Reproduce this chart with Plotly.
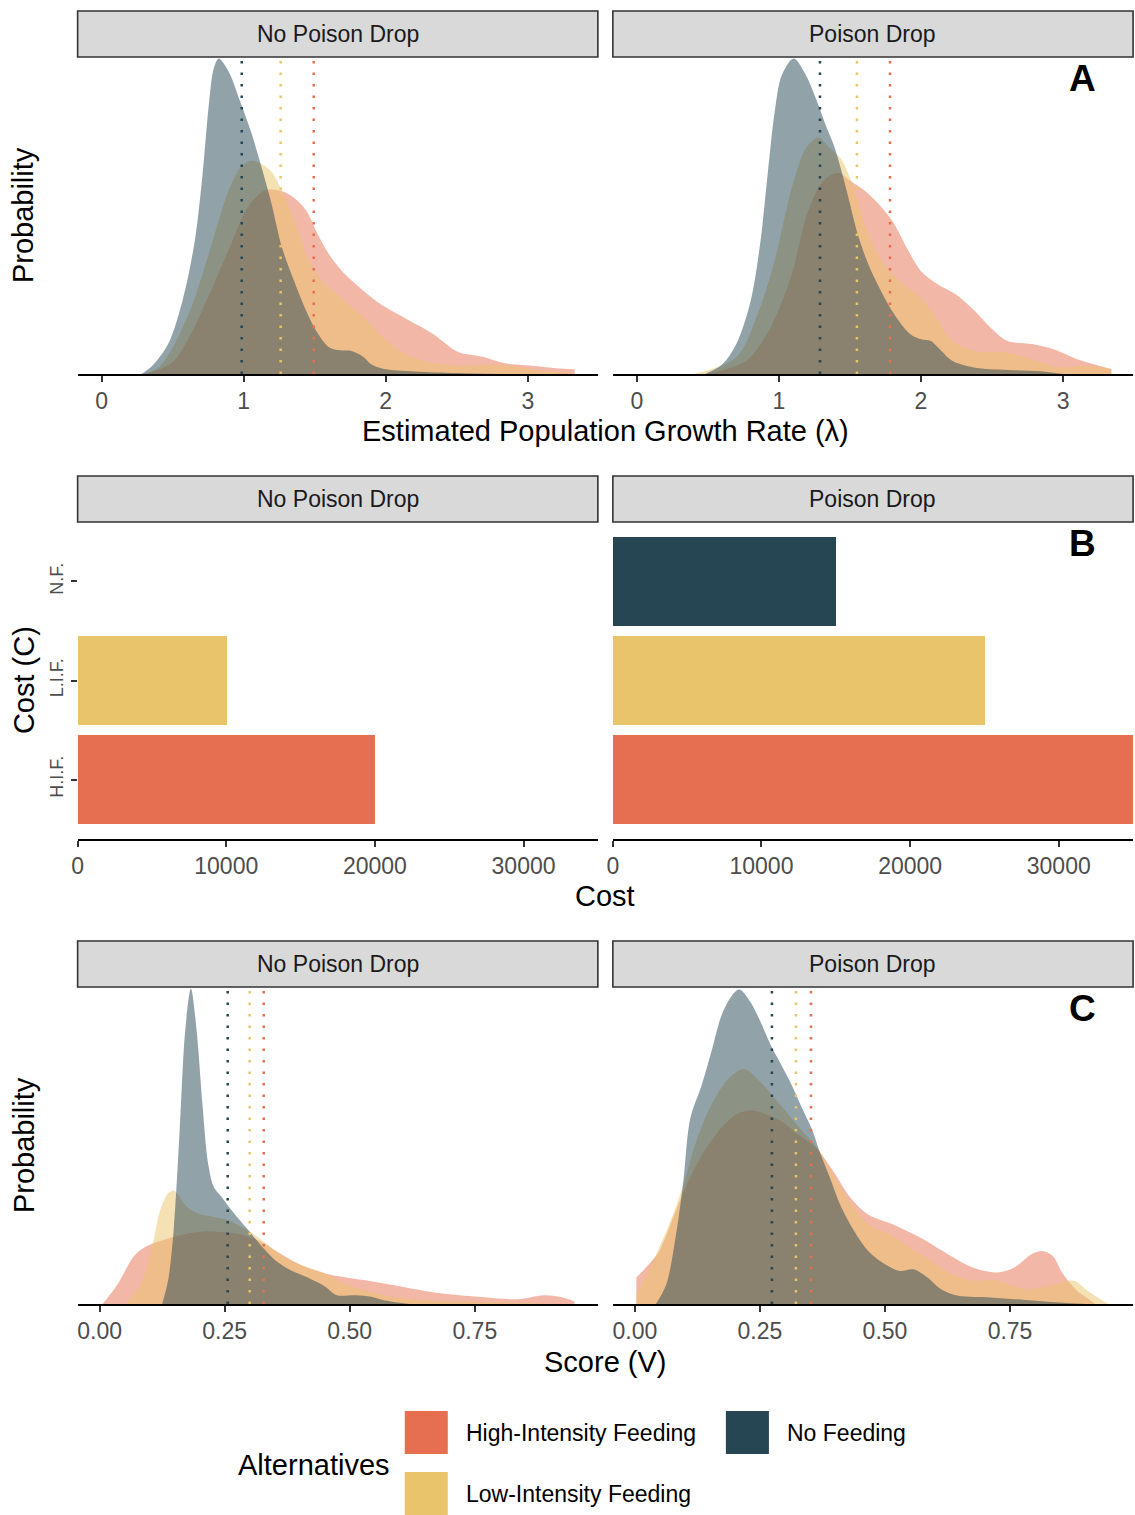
import plotly.graph_objects as go

# ---------------- data ----------------
alternatives = ["High-Intensity Feeding", "Low-Intensity Feeding", "No Feeding"]
alt_colors = ["#E76F51", "#E9C46A", "#264653"]
facets = ["No Poison Drop", "Poison Drop"]

# Panel A: estimated population growth rate (lambda) densities (relative height)
lam_npd_hif_x = [0.30, 0.49, 0.63, 0.76, 0.90, 1.03, 1.14, 1.19, 1.27, 1.35, 1.44, 1.52, 1.60, 1.71, 1.84, 1.976, 2.14, 2.33, 2.51, 2.68, 2.84, 3.05, 3.20, 3.33]
lam_npd_hif_y = [0.0, 0.034, 0.128, 0.255, 0.40, 0.53, 0.58, 0.586, 0.579, 0.56, 0.518, 0.444, 0.38, 0.318, 0.265, 0.218, 0.176, 0.128, 0.07, 0.055, 0.034, 0.025, 0.018, 0.015]
lam_npd_lif_x = [0.30, 0.40, 0.49, 0.63, 0.76, 0.90, 0.98, 1.046, 1.11, 1.19, 1.27, 1.35, 1.44, 1.545, 1.65, 1.76, 1.87, 1.976, 2.11, 2.245, 2.51, 2.73, 2.92, 3.10, 3.30]
lam_npd_lif_y = [0.0, 0.02, 0.076, 0.21, 0.39, 0.59, 0.655, 0.676, 0.67, 0.644, 0.58, 0.497, 0.38, 0.297, 0.255, 0.213, 0.17, 0.118, 0.07, 0.044, 0.025, 0.03, 0.023, 0.01, 0.003]
lam_npd_nf_x = [0.28, 0.36, 0.47, 0.57, 0.655, 0.71, 0.757, 0.79, 0.825, 0.898, 0.97, 1.05, 1.11, 1.19, 1.27, 1.35, 1.44, 1.52, 1.60, 1.68, 1.76, 1.84, 1.90, 1.98, 2.20, 2.50, 2.80]
lam_npd_nf_y = [0.0, 0.028, 0.097, 0.234, 0.42, 0.63, 0.865, 0.97, 1.0, 0.955, 0.87, 0.77, 0.68, 0.55, 0.40, 0.30, 0.20, 0.13, 0.085, 0.075, 0.073, 0.055, 0.03, 0.017, 0.008, 0.003, 0.0]

lam_pd_hif_x = [0.48, 0.77, 0.94, 1.09, 1.19, 1.29, 1.36, 1.42, 1.51, 1.607, 1.705, 1.80, 1.90, 2.00, 2.12, 2.244, 2.367, 2.49, 2.61, 2.78, 2.93, 3.10, 3.34]
lam_pd_hif_y = [0.0, 0.042, 0.147, 0.316, 0.495, 0.60, 0.63, 0.637, 0.61, 0.58, 0.537, 0.484, 0.40, 0.326, 0.284, 0.253, 0.205, 0.147, 0.105, 0.095, 0.079, 0.047, 0.016]
lam_pd_lif_x = [0.40, 0.70, 0.85, 0.97, 1.09, 1.19, 1.275, 1.36, 1.435, 1.51, 1.58, 1.655, 1.754, 1.876, 2.00, 2.12, 2.22, 2.37, 2.61, 2.735, 2.98, 3.15, 3.34]
lam_pd_lif_y = [0.0, 0.053, 0.19, 0.36, 0.59, 0.716, 0.75, 0.716, 0.684, 0.61, 0.505, 0.42, 0.337, 0.284, 0.242, 0.168, 0.105, 0.074, 0.068, 0.053, 0.021, 0.026, 0.016]
lam_pd_nf_x = [0.48, 0.60, 0.70, 0.80, 0.87, 0.92, 0.97, 1.02, 1.104, 1.19, 1.263, 1.337, 1.386, 1.435, 1.484, 1.557, 1.63, 1.73, 1.827, 1.925, 2.00, 2.07, 2.12, 2.22, 2.37, 2.61, 2.86, 3.00]
lam_pd_nf_y = [0.0, 0.03, 0.095, 0.23, 0.42, 0.63, 0.83, 0.947, 1.0, 0.947, 0.87, 0.78, 0.726, 0.653, 0.568, 0.44, 0.347, 0.253, 0.179, 0.126, 0.11, 0.105, 0.084, 0.042, 0.021, 0.013, 0.008, 0.0]

lam_means_npd = [1.493, 1.26, 0.986]
lam_means_pd = [1.782, 1.549, 1.289]

# Panel B: cost
cost_labels = ["H.I.F.", "L.I.F.", "N.F."]
cost_npd = [20000, 10000, 0]
cost_pd = [35000, 25000, 15000]

# Panel C: score (V) densities (relative height)
score_npd_hif_x = [0.006, 0.037, 0.0675, 0.09, 0.121, 0.16, 0.2055, 0.244, 0.282, 0.32, 0.351, 0.397, 0.451, 0.528, 0.604, 0.681, 0.758, 0.834, 0.888, 0.919, 0.949]
score_npd_hif_y = [0.0, 0.065, 0.15, 0.18, 0.20, 0.218, 0.23, 0.228, 0.221, 0.20, 0.17, 0.128, 0.097, 0.076, 0.055, 0.034, 0.023, 0.015, 0.028, 0.023, 0.009]
score_npd_lif_x = [0.052, 0.083, 0.106, 0.121, 0.1365, 0.148, 0.16, 0.175, 0.198, 0.2285, 0.259, 0.29, 0.32, 0.351, 0.382, 0.4125, 0.451, 0.489, 0.528, 0.566, 0.643, 0.796, 0.95]
score_npd_lif_y = [0.0, 0.065, 0.19, 0.297, 0.35, 0.36, 0.34, 0.307, 0.286, 0.276, 0.265, 0.239, 0.207, 0.17, 0.139, 0.118, 0.097, 0.065, 0.044, 0.028, 0.013, 0.006, 0.0]
score_npd_nf_x = [0.125, 0.137, 0.148, 0.16, 0.171, 0.1825, 0.194, 0.2055, 0.217, 0.2285, 0.244, 0.259, 0.2745, 0.2975, 0.32, 0.351, 0.382, 0.4125, 0.451, 0.474, 0.512, 0.543, 0.566, 0.604, 0.62]
score_npd_nf_y = [0.0, 0.076, 0.234, 0.55, 0.865, 1.0, 0.865, 0.634, 0.444, 0.37, 0.339, 0.307, 0.276, 0.234, 0.19, 0.139, 0.107, 0.086, 0.055, 0.028, 0.028, 0.023, 0.013, 0.003, 0.0]

score_pd_hif_x = [0.003, 0.028, 0.049, 0.0765, 0.104, 0.139, 0.174, 0.202, 0.23, 0.2575, 0.292, 0.327, 0.362, 0.397, 0.431, 0.466, 0.515, 0.571, 0.626, 0.675, 0.724, 0.7585, 0.793, 0.814, 0.835, 0.856, 0.884, 0.912, 0.92]
score_pd_hif_y = [0.084, 0.126, 0.168, 0.274, 0.38, 0.485, 0.56, 0.60, 0.614, 0.605, 0.58, 0.537, 0.495, 0.42, 0.337, 0.284, 0.253, 0.21, 0.158, 0.116, 0.10, 0.116, 0.158, 0.168, 0.153, 0.095, 0.042, 0.01, 0.0]
score_pd_lif_x = [0.003, 0.028, 0.049, 0.0765, 0.097, 0.125, 0.153, 0.188, 0.219, 0.2505, 0.285, 0.313, 0.341, 0.369, 0.397, 0.4245, 0.466, 0.508, 0.55, 0.5915, 0.633, 0.675, 0.724, 0.78, 0.828, 0.877, 0.905, 0.946]
score_pd_lif_y = [0.03, 0.105, 0.18, 0.284, 0.38, 0.526, 0.632, 0.716, 0.745, 0.705, 0.642, 0.59, 0.537, 0.485, 0.41, 0.337, 0.253, 0.221, 0.179, 0.137, 0.095, 0.074, 0.074, 0.047, 0.058, 0.074, 0.042, 0.0]
score_pd_nf_x = [0.042, 0.063, 0.0835, 0.097, 0.111, 0.132, 0.153, 0.174, 0.195, 0.209, 0.23, 0.2505, 0.271, 0.292, 0.313, 0.334, 0.355, 0.369, 0.39, 0.41, 0.438, 0.466, 0.50, 0.529, 0.557, 0.585, 0.612, 0.647, 0.71, 0.78, 0.849, 0.90]
score_pd_nf_y = [0.0, 0.063, 0.232, 0.39, 0.59, 0.686, 0.80, 0.918, 0.98, 0.997, 0.96, 0.897, 0.823, 0.76, 0.696, 0.622, 0.55, 0.485, 0.40, 0.316, 0.232, 0.169, 0.126, 0.105, 0.11, 0.084, 0.047, 0.026, 0.021, 0.013, 0.005, 0.0]

score_means_npd = [0.328, 0.30, 0.256]
score_means_pd = [0.352, 0.322, 0.274]

# ---------------- layout helpers ----------------
W, H = 1135, 1515
FONT = "Liberation Sans, Arial, Helvetica, sans-serif"


def fx(p):
    # horizontal pixel -> paper fraction (small correction for the capture's horizontal offset)
    return ((p - 6.4) / 0.9943) / W


def fy(p):
    return 1 - p / H


def rgba(hex_color, a):
    h = hex_color.lstrip("#")
    r, g, b = int(h[0:2], 16), int(h[2:4], 16), int(h[4:6], 16)
    return f"rgba({r},{g},{b},{a})"


cols = [(78, 598), (613, 1133)]
rows = [(57, 374), (522, 839), (987, 1304)]
strip_rows = [(11, 57), (476, 522), (941, 987)]

fig = go.Figure()

density_sets = {
    (0, 0): [(lam_npd_hif_x, lam_npd_hif_y), (lam_npd_lif_x, lam_npd_lif_y), (lam_npd_nf_x, lam_npd_nf_y)],
    (0, 1): [(lam_pd_hif_x, lam_pd_hif_y), (lam_pd_lif_x, lam_pd_lif_y), (lam_pd_nf_x, lam_pd_nf_y)],
    (2, 0): [(score_npd_hif_x, score_npd_hif_y), (score_npd_lif_x, score_npd_lif_y), (score_npd_nf_x, score_npd_nf_y)],
    (2, 1): [(score_pd_hif_x, score_pd_hif_y), (score_pd_lif_x, score_pd_lif_y), (score_pd_nf_x, score_pd_nf_y)],
}
mean_sets = {
    (0, 0): lam_means_npd, (0, 1): lam_means_pd,
    (2, 0): score_means_npd, (2, 1): score_means_pd,
}


def axis_index(r, c):
    return r * 2 + c + 1


shapes = []
annotations = []

for (r, c), series in density_sets.items():
    i = axis_index(r, c)
    xa = "x" if i == 1 else f"x{i}"
    ya = "y" if i == 1 else f"y{i}"
    for k, (xs, ys) in enumerate(series):
        fig.add_trace(go.Scatter(
            x=xs, y=ys, mode="lines", fill="tozeroy",
            line=dict(width=0, color=alt_colors[k], shape="spline", smoothing=0.9),
            fillcolor=rgba(alt_colors[k], 0.5),
            name=alternatives[k], showlegend=False, hoverinfo="skip",
            xaxis=xa, yaxis=ya))
    for k, m in enumerate(mean_sets[(r, c)]):
        shapes.append(dict(type="line", xref=xa, yref=f"{ya} domain", x0=m, x1=m, y0=0, y1=1,
                           line=dict(color=alt_colors[k], width=2.5, dash="2.5px,9px"), layer="above"))

for c, vals in enumerate([cost_npd, cost_pd]):
    i = axis_index(1, c)
    fig.add_trace(go.Bar(
        x=vals, y=cost_labels, orientation="h", width=0.9,
        marker=dict(color=alt_colors, line=dict(width=0)),
        showlegend=False, hoverinfo="skip",
        xaxis=f"x{i}", yaxis=f"y{i}"))

layout_axes = {}
for r in range(3):
    for c in range(2):
        i = axis_index(r, c)
        xname = "xaxis" if i == 1 else f"xaxis{i}"
        yname = "yaxis" if i == 1 else f"yaxis{i}"
        ya = "y" if i == 1 else f"y{i}"
        xa = "x" if i == 1 else f"x{i}"
        xd = [fx(cols[c][0]), min(1.0, fx(cols[c][1]))]
        yd = [fy(rows[r][1]), fy(rows[r][0])]
        xax = dict(domain=xd, anchor=ya, showline=True, linecolor="black", linewidth=1.5,
                   ticks="outside", ticklen=6, tickwidth=1.5, tickcolor="#333333",
                   tickfont=dict(size=23, color="#4D4D4D", family=FONT),
                   showgrid=False, zeroline=False, fixedrange=True)
        if r == 0:
            xax.update(range=[-0.169, 3.493], tickvals=[0, 1, 2, 3], ticktext=["0", "1", "2", "3"])
        elif r == 1:
            xax.update(range=[0, 35000], tickvals=[0, 10000, 20000, 30000],
                       ticktext=["0", "10000", "20000", "30000"])
        else:
            xax.update(range=[-0.044, 0.996], tickvals=[0, 0.25, 0.5, 0.75],
                       ticktext=["0.00", "0.25", "0.50", "0.75"])
        yax = dict(domain=yd, anchor=xa, showgrid=False, zeroline=False, showline=False, fixedrange=True)
        if r == 1:
            yax.update(type="category", categoryorder="array", categoryarray=cost_labels,
                       range=[-0.6, 2.6])
            if c == 0:
                yax.update(ticks="outside", ticklen=6, tickwidth=1.5, tickcolor="#333333",
                           tickangle=-90, tickfont=dict(size=18, color="#4D4D4D", family=FONT),
                           showticklabels=True)
            else:
                yax.update(showticklabels=False, ticks="")
        else:
            yax.update(range=[0, 1.005], showticklabels=False, ticks="")
        layout_axes[xname] = xax
        layout_axes[yname] = yax

# strips
for r in range(3):
    for c in range(2):
        shapes.append(dict(type="rect", xref="paper", yref="paper",
                           x0=fx(cols[c][0]), x1=min(1.0, fx(cols[c][1])),
                           y0=fy(strip_rows[r][1]), y1=fy(strip_rows[r][0]),
                           fillcolor="#D9D9D9", line=dict(color="#333333", width=1.6), layer="above"))
        annotations.append(dict(text=facets[c], xref="paper", yref="paper",
                                x=fx((cols[c][0] + cols[c][1]) / 2), y=fy((strip_rows[r][0] + strip_rows[r][1]) / 2),
                                xanchor="center", yanchor="middle", showarrow=False,
                                font=dict(size=23, color="#1A1A1A", family=FONT)))

# axis titles
x_titles = ["Estimated Population Growth Rate (λ)", "Cost", "Score (V)"]
x_title_y = [431, 896, 1362]
y_titles = ["Probability", "Cost (C)", "Probability"]
for r in range(3):
    annotations.append(dict(text=x_titles[r], xref="paper", yref="paper", x=fx(605.5), y=fy(x_title_y[r]),
                            xanchor="center", yanchor="middle", showarrow=False,
                            font=dict(size=29, color="black", family=FONT)))
    annotations.append(dict(text=y_titles[r], xref="paper", yref="paper", x=fx(24),
                            y=fy((rows[r][0] + rows[r][1]) / 2), textangle=-90,
                            xanchor="center", yanchor="middle", showarrow=False,
                            font=dict(size=29, color="black", family=FONT)))

# panel tags
for r, tag in enumerate(["A", "B", "C"]):
    annotations.append(dict(text=f"<b>{tag}</b>", xref="paper", yref="paper", x=fx(1082), y=fy(rows[r][0] + 21),
                            xanchor="center", yanchor="middle", showarrow=False,
                            font=dict(size=37, color="black", family=FONT)))

# legend (manual)
legend_keys = [(405, 1411), (405, 1472), (726, 1411)]
legend_label_x = [464, 464, 785]
for k in range(3):
    kx, ky = legend_keys[k]
    shapes.append(dict(type="rect", xref="paper", yref="paper", x0=fx(kx), x1=fx(kx + 43),
                       y0=fy(ky + 43), y1=fy(ky), fillcolor=alt_colors[k], line=dict(width=0)))
    annotations.append(dict(text=alternatives[k], xref="paper", yref="paper", x=fx(legend_label_x[k]),
                            y=fy(ky + 22), xanchor="left", yanchor="middle", showarrow=False,
                            font=dict(size=23, color="black", family=FONT)))
annotations.append(dict(text="Alternatives", xref="paper", yref="paper", x=fx(236), y=fy(1465),
                        xanchor="left", yanchor="middle", showarrow=False,
                        font=dict(size=29, color="black", family=FONT)))

fig.update_layout(
    width=W, height=H, margin=dict(l=0, r=0, t=0, b=0),
    paper_bgcolor="white", plot_bgcolor="white",
    showlegend=False, shapes=shapes, annotations=annotations,
    font=dict(family=FONT), bargap=0,
    **layout_axes)

fig.write_html("out.html", post_script="document.body.style.margin='0';document.body.style.overflow='hidden';")
